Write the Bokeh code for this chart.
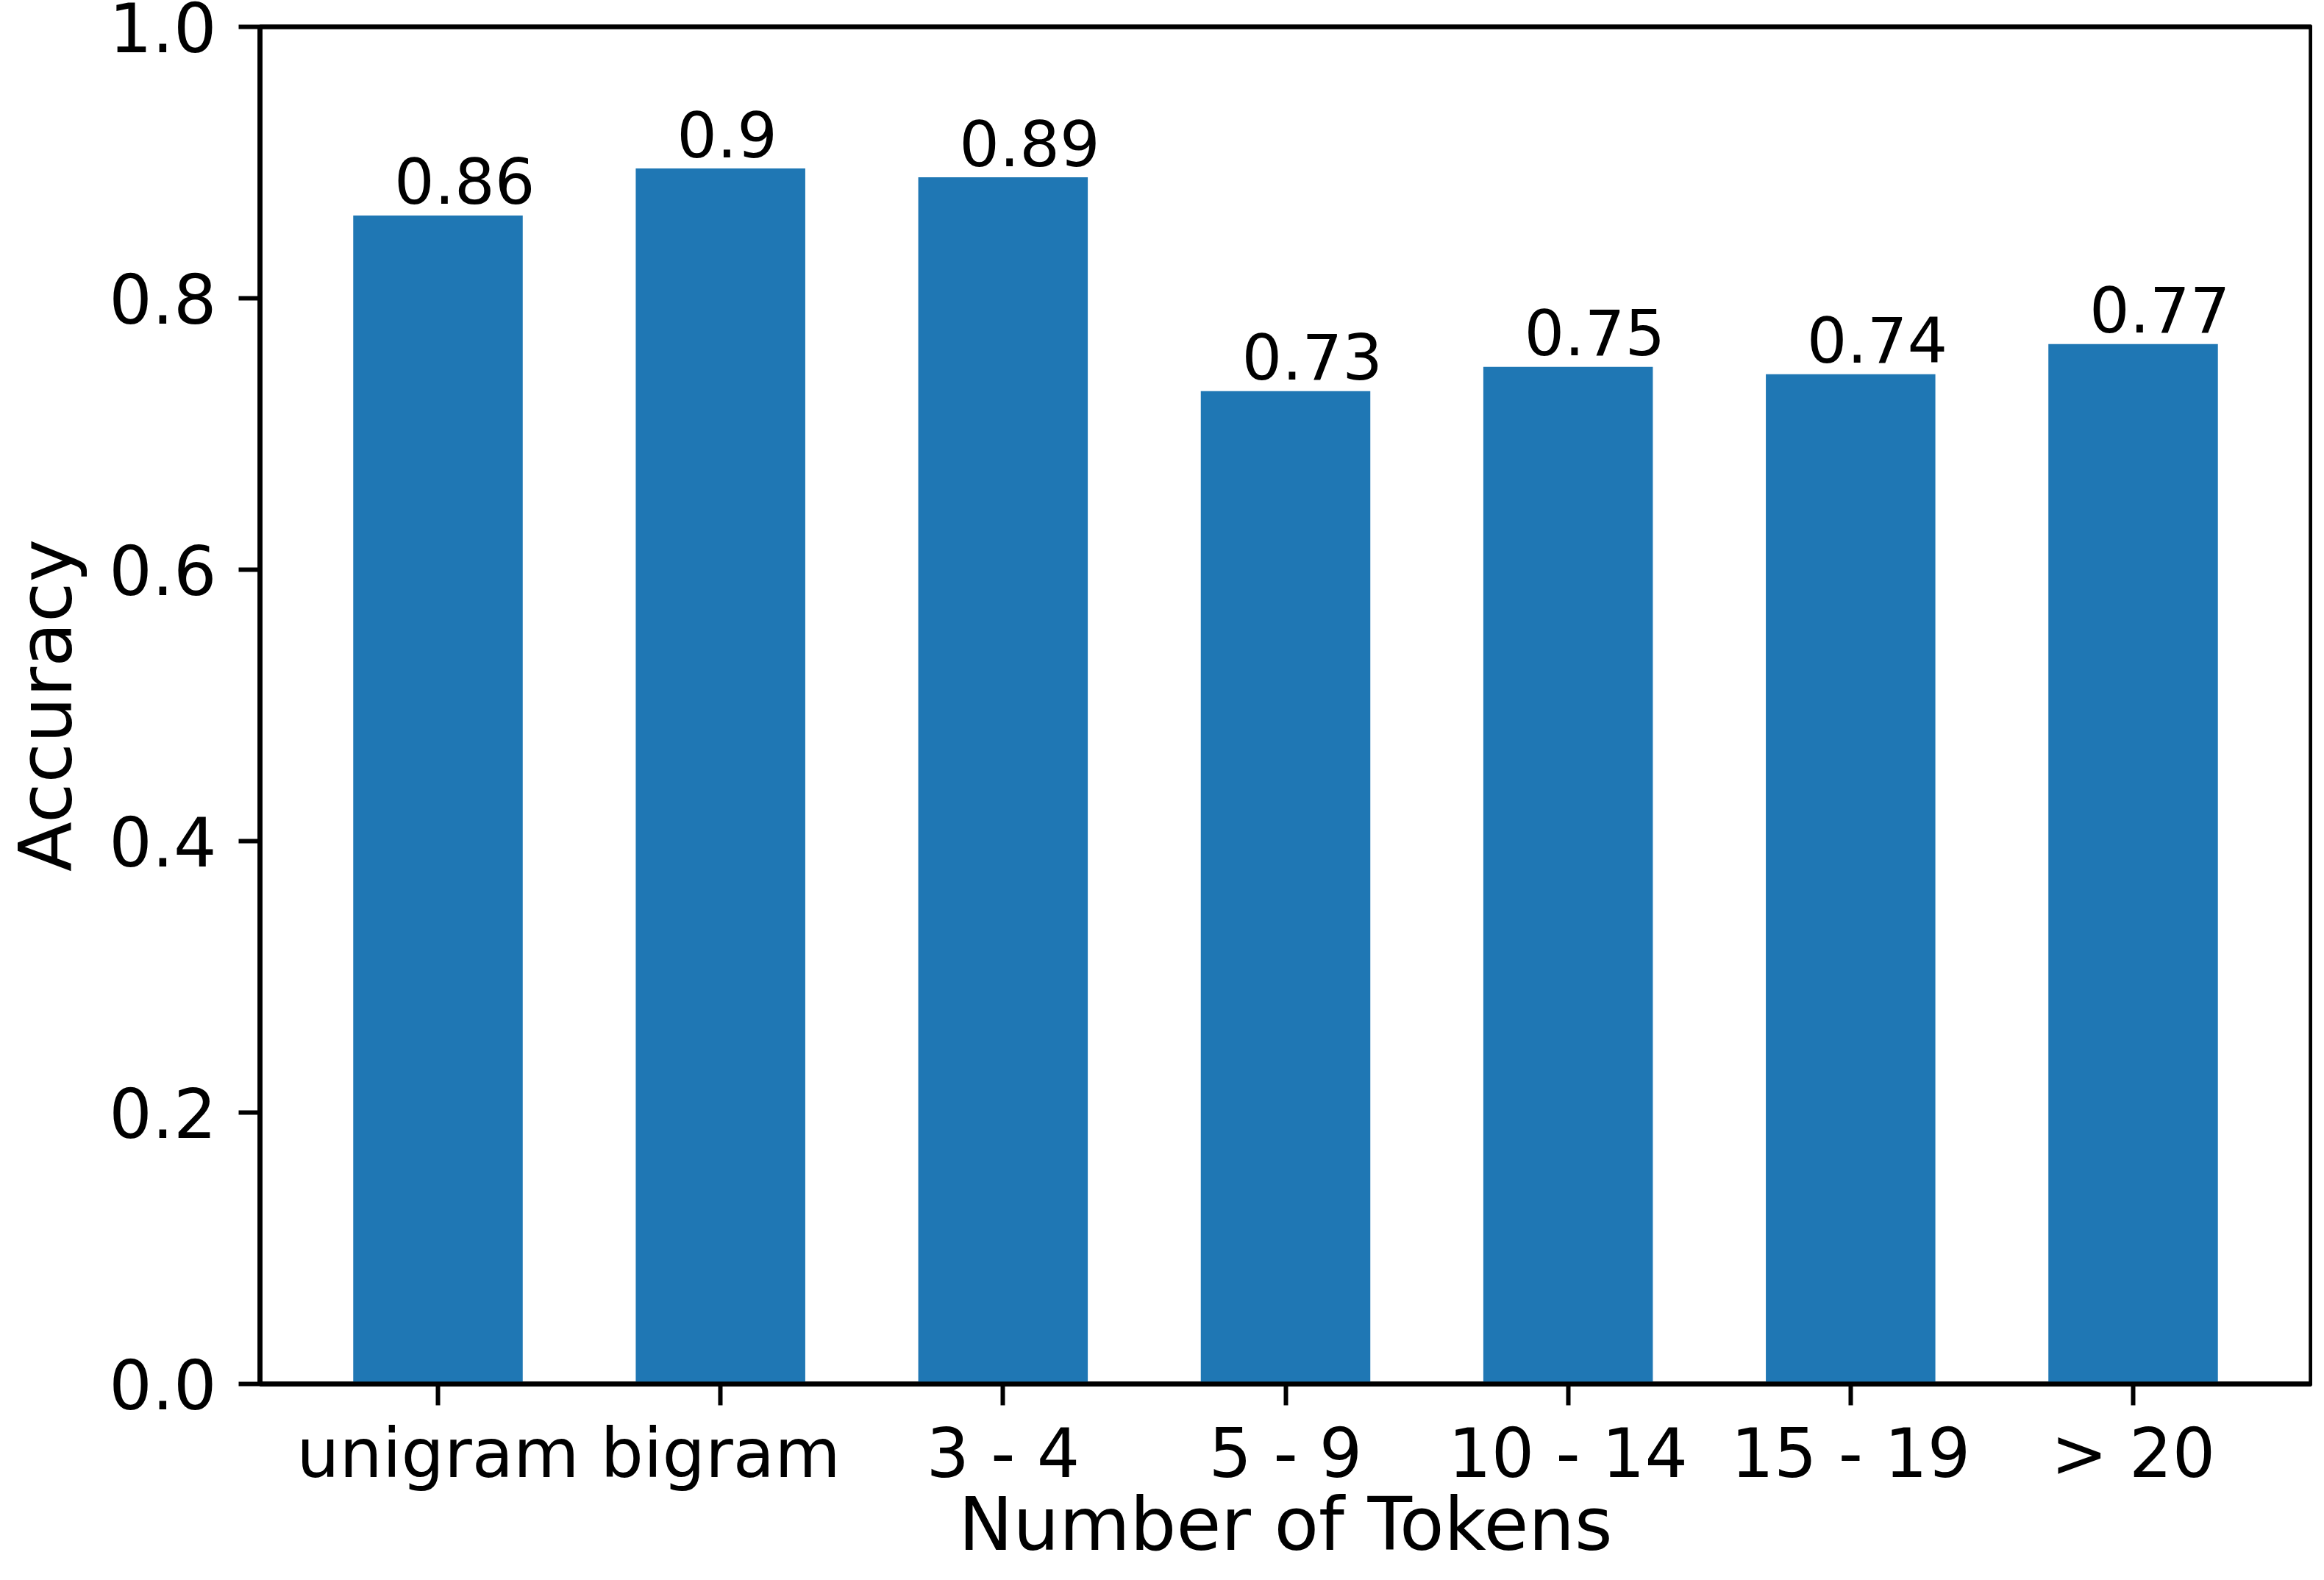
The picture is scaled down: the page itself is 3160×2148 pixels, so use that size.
from bokeh.plotting import figure
from bokeh.models import Range1d, FixedTicker, ColumnDataSource
from bokeh.embed import file_html
from bokeh.resources import INLINE
from bokeh.core.properties import value

categories = ["unigram", "bigram", "3 - 4", "5 - 9", "10 - 14", "15 - 19", "> 20"]
accuracy = [0.861, 0.8956, 0.8891, 0.7316, 0.7495, 0.7440, 0.7662]
bar_labels = ["0.86", "0.9", "0.89", "0.73", "0.75", "0.74", "0.77"]
y_ticks = [0.0, 0.2, 0.4, 0.6, 0.8, 1.0]
x_title = "Number of Tokens"
y_title = "Accuracy"

xs = list(range(len(categories)))
FONT = "DejaVu Sans"
BLUE = "#1f77b4"
x_lo, x_hi = -0.63, len(categories) - 1 + 0.63

p = figure(width=3144, height=2132, output_backend="svg", toolbar_location=None,
           x_range=Range1d(x_lo, x_hi), y_range=Range1d(0, 1.0),
           min_border_left=353, min_border_right=2, min_border_top=36, min_border_bottom=248)

src = ColumnDataSource(dict(x=xs, top=accuracy, lab=bar_labels,
                            lx=[x - 0.155 for x in xs]))
p.vbar(x="x", top="top", bottom=0, width=0.6, source=src, fill_color=BLUE, line_color=None)
p.text(x="lx", y="top", text="lab", source=src, text_font=value(FONT), text_font_size="86px",
       text_align="left", text_baseline="middle", y_offset=-47, text_color="black")

p.xgrid.visible = False
p.ygrid.visible = False
p.background_fill_color = "white"
p.border_fill_color = "white"
p.outline_line_color = "black"
p.outline_line_width = 6.5

p.xaxis.ticker = FixedTicker(ticks=xs)
p.xaxis.major_label_overrides = {x: c for x, c in zip(xs, categories)}
p.yaxis.ticker = FixedTicker(ticks=y_ticks)
p.yaxis.major_label_overrides = {t: f"{t:.1f}" for t in y_ticks}

for ax in (p.xaxis, p.yaxis):
    ax.axis_line_width = 6.5
    ax.axis_line_color = "black"
    ax.major_tick_line_width = 6
    ax.major_tick_line_color = "black"
    ax.major_tick_out = 29
    ax.major_tick_in = 0
    ax.minor_tick_line_color = None
    ax.major_label_text_font = FONT
    ax.major_label_text_font_size = "92px"
    ax.major_label_text_color = "black"
    ax.axis_label_text_font = FONT
    ax.axis_label_text_font_size = "99px"
    ax.axis_label_text_font_style = "normal"
    ax.axis_label_text_color = "black"

p.xaxis.axis_label = x_title
p.yaxis.axis_label = y_title
p.xaxis.major_label_standoff = 12
p.xaxis.axis_label_standoff = -18
p.yaxis.major_label_standoff = 30
p.yaxis.axis_label_standoff = 25

open("out.html", "w").write(file_html(p, INLINE))
